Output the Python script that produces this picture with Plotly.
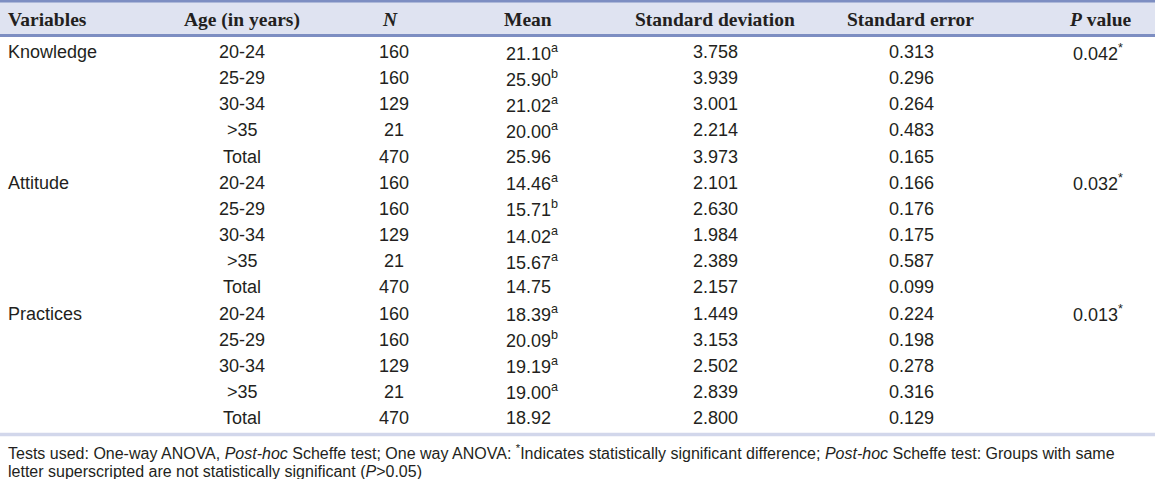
import plotly.graph_objects as go

# ---------------- data ----------------
headers = ["Variables", "Age (in years)", "<i>N</i>", "Mean", "Standard deviation", "Standard error", "<i>P</i> value"]
variables = ["Knowledge", "Attitude", "Practices"]
age_groups = ["20-24", "25-29", "30-34", ">35", "Total"]
n_values = [160, 160, 129, 21, 470]

knowledge_mean = ["21.10", "25.90", "21.02", "20.00", "25.96"]
knowledge_sup = ["a", "b", "a", "a", ""]
knowledge_sd = ["3.758", "3.939", "3.001", "2.214", "3.973"]
knowledge_se = ["0.313", "0.296", "0.264", "0.483", "0.165"]

attitude_mean = ["14.46", "15.71", "14.02", "15.67", "14.75"]
attitude_sup = ["a", "b", "a", "a", ""]
attitude_sd = ["2.101", "2.630", "1.984", "2.389", "2.157"]
attitude_se = ["0.166", "0.176", "0.175", "0.587", "0.099"]

practices_mean = ["18.39", "20.09", "19.19", "19.00", "18.92"]
practices_sup = ["a", "b", "a", "a", ""]
practices_sd = ["1.449", "3.153", "2.502", "2.839", "2.800"]
practices_se = ["0.224", "0.198", "0.278", "0.316", "0.129"]

p_values = ["0.042", "0.032", "0.013"]

footnote_lines = [
    "Tests used: One-way ANOVA, <i>Post-hoc</i> Scheffe test; One way ANOVA: <sup>*</sup>Indicates statistically significant difference; <i>Post-hoc</i> Scheffe test: Groups with same",
    "letter superscripted are not statistically significant (<i>P</i>&gt;0.05)",
]

# ---------------- layout constants ----------------
W, H = 1155, 479
head_x = [6, 242, 390, 528, 715, 910, 1100]
head_anchor = ["left", "center", "center", "center", "center", "center", "center"]
col_x = [6, 242, 394, 504, 715, 911, 1071]
col_anchor = ["left", "center", "center", "left", "center", "center", "left"]
header_y = 19.5
row_y0 = 52
row_step = 26.15
body_font = dict(family="Liberation Sans, Arial", size=18, color="#231f20")
head_font = dict(family="Liberation Serif, Times New Roman", size=19.5, color="#231f20")
foot_font = dict(family="Liberation Sans, Arial", size=16, color="#231f20")

blocks = [
    (knowledge_mean, knowledge_sup, knowledge_sd, knowledge_se),
    (attitude_mean, attitude_sup, attitude_sd, attitude_se),
    (practices_mean, practices_sup, practices_sd, practices_se),
]

fig = go.Figure()
annotations = []
shapes = []

# header band
shapes.append(dict(type="rect", xref="x", yref="y", x0=0, x1=W, y0=1, y1=35.5,
                   fillcolor="#dfe3f1", line=dict(width=0), layer="below"))
shapes.append(dict(type="line", xref="x", yref="y", x0=0, x1=W, y0=1.2, y1=1.2,
                   line=dict(color="#7d8ec2", width=2.5)))
shapes.append(dict(type="line", xref="x", yref="y", x0=0, x1=W, y0=35.5, y1=35.5,
                   line=dict(color="#7d8ec2", width=3)))
# bottom rule
shapes.append(dict(type="line", xref="x", yref="y", x0=0, x1=W, y0=434.5, y1=434.5,
                   line=dict(color="#d2d7eb", width=3.5)))

for i, h in enumerate(headers):
    annotations.append(dict(x=head_x[i], y=header_y, xref="x", yref="y", text="<b>" + h + "</b>",
                            showarrow=False, xanchor=head_anchor[i], yanchor="middle", font=head_font))

r = 0
for b, var in enumerate(variables):
    means, sups, sds, ses = blocks[b]
    for j, age in enumerate(age_groups):
        y = row_y0 + r * row_step
        mean_txt = means[j] + ("<sup>" + sups[j] + "</sup>" if sups[j] else "")
        cells = [var if j == 0 else "", age, str(n_values[j]), mean_txt, sds[j], ses[j],
                 (p_values[b] + "<sup>*</sup>") if j == 0 else ""]
        for c, txt in enumerate(cells):
            if not txt:
                continue
            annotations.append(dict(x=col_x[c], y=y, xref="x", yref="y", text=txt, showarrow=False,
                                    xanchor=col_anchor[c], yanchor="middle", font=body_font))
        r += 1

for k, line in enumerate(footnote_lines):
    annotations.append(dict(x=6, y=452 + k * 19, xref="x", yref="y", text=line, showarrow=False,
                            xanchor="left", yanchor="middle", font=foot_font))

fig.update_layout(
    width=W, height=H,
    margin=dict(l=0, r=0, t=0, b=0),
    paper_bgcolor="white", plot_bgcolor="white",
    xaxis=dict(range=[0, W], visible=False, fixedrange=True),
    yaxis=dict(range=[H, 0], visible=False, fixedrange=True),
    shapes=shapes, annotations=annotations, showlegend=False,
)

fig.write_html("out.html", config={"displayModeBar": False},
               post_script="document.body.style.margin='0';document.body.style.overflow='hidden';")
